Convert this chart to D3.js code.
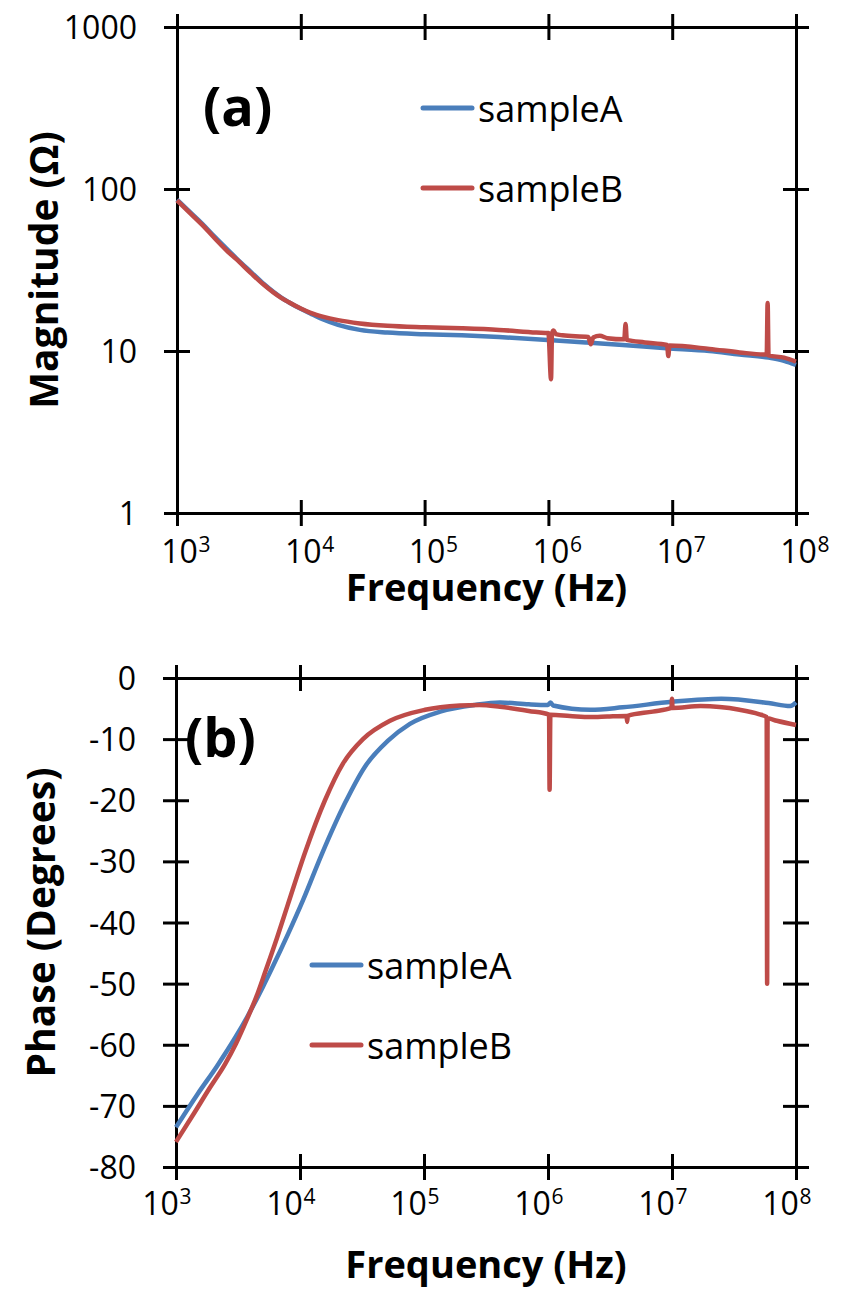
<html>
<head>
<meta charset="utf-8">
<script src="https://d3js.org/d3.v7.min.js"></script>
<style>
  body { margin: 0; background: #fff; }
  text { font-family: "Open Sans", sans-serif; fill: #000; }
  .domain, .tick line { stroke: #000; stroke-width: 3; }
  .domain { stroke-linecap: square; }
</style>
</head>
<body>
<script>
// ---- data ----
const freqTicks = [1e3, 1e4, 1e5, 1e6, 1e7, 1e8];
const freqExp = ['3', '4', '5', '6', '7', '8'];
const magTicks = [1, 10, 100, 1000];
const phaseTicks = [0, -10, -20, -30, -40, -50, -60, -70, -80];
const seriesNames = ['sampleA', 'sampleB'];
const colors = ['#4a7ebb', '#be4b48'];

// (a) magnitude, ohm
const magFreqA = [1e3, 1.3e3, 1.6e3, 2e3, 2.5e3, 3e3, 4e3, 5e3, 6e3, 7e3, 8e3, 1e4, 1.2e4, 1.5e4, 2e4, 3e4, 5e4, 1e5,
  2e5, 4e5, 1e6, 2e6, 4e6, 9e6, 2e7, 3.5e7, 6e7, 8e7, 1e8];
const magA = [86, 71, 61, 51, 43, 37.5, 30.5, 26, 23.2, 21.3, 20, 18.2, 17.0, 15.7, 14.5, 13.5, 13.0, 12.7,
  12.5, 12.2, 11.7, 11.3, 10.9, 10.4, 10.0, 9.5, 9.1, 8.7, 8.2];
const magFreqB = [1e3, 1.3e3, 1.6e3, 2e3, 2.5e3, 3e3, 4e3, 5e3, 6e3, 7e3, 8e3, 1e4, 1.2e4, 1.5e4, 2e4, 3e4, 5e4, 1e5,
  2e5, 4e5, 8e5, 1.0e6, 1.05e6, 1.07e6, 1.1e6, 1.15e6, 1.3e6, 2.1e6, 2.2e6, 2.3e6, 2.6e6, 3e6, 4.1e6, 4.2e6, 4.3e6,
  6e6, 9.1e6, 9.3e6, 9.5e6, 2e7, 3.5e7, 5.8e7, 5.9e7, 6.0e7, 8e7, 1e8];
const magB = [85, 70, 60, 50, 42, 37, 30, 25.7, 23, 21.2, 20, 18.3, 17.2, 16.3, 15.5, 14.8, 14.3, 14.0,
  13.8, 13.5, 13.0, 12.9, 6.7, 12.9, 13.4, 12.7, 12.5, 12.2, 11.0, 12.1, 12.4, 12.0, 11.8, 14.7, 11.7,
  11.3, 10.9, 9.3, 10.8, 10.3, 9.8, 9.5, 19.8, 9.4, 9.1, 8.6];

// (b) phase, degrees
const phFreqA = [1e3, 1.5e3, 2.14e3, 2.99e3, 3.74e3, 5.03e3, 5.94e3, 8e3, 1.06e4, 1.5e4, 2.3e4, 3.34e4, 5.1e4,
  7.7e4, 1.35e5, 2.58e5, 4.1e5, 7e5, 1e6, 1.05e6, 1.1e6, 2.2e6, 4e6, 1e7, 2.5e7, 6e7, 9e7, 1e8];
const phA = [-73.5, -68, -63.5, -58.9, -55.5, -50.5, -47.5, -41.9, -36.3, -28.8, -20.5, -14.5, -10.3,
  -7.5, -5.5, -4.4, -4.0, -4.3, -4.4, -4.0, -4.5, -5.2, -4.8, -3.9, -3.4, -4.1, -4.6, -4.0];
const phFreqB = [1e3, 1.37e3, 1.88e3, 2.48e3, 3.05e3, 3.74e3, 4.42e3, 5.22e3, 6.53e3, 8e3, 1.1e4, 1.59e4, 2.22e4,
  3.22e4, 5.32e4, 1.02e5, 1.95e5, 2.8e5, 4.1e5, 7e5, 1.02e6, 1.03e6, 1.045e6, 1.5e6, 2.2e6, 3e6, 4.3e6, 4.35e6,
  4.4e6, 7e6, 9.9e6, 1.0e7, 1.01e7, 1.7e7, 3.5e7, 5.0e7, 5.8e7, 5.85e7, 5.9e7, 7e7, 1e8];
const phB = [-75.9, -71.5, -67, -63.2, -59.8, -55.8, -52.3, -48.2, -42.5, -37, -28.5, -20, -14,
  -10, -7, -5.2, -4.5, -4.4, -4.7, -5.4, -6.0, -18.3, -6.0, -6.2, -6.4, -6.3, -6.2, -7.2,
  -6.2, -5.5, -4.9, -3.4, -4.9, -4.6, -5.2, -5.9, -6.4, -50, -6.6, -7.0, -7.7];

const svg = d3.select('body').append('svg').attr('width', 842).attr('height', 1296);

function crossTicks(g, horizontal) {
  g.selectAll('.tick line')
    .attr(horizontal ? 'y1' : 'x1', -13)
    .attr(horizontal ? 'y2' : 'x2', 13);
}

function panel(p) {
  const x = d3.scaleLog().domain([1e3, 1e8]).range([p.left, p.right]);
  const y = p.y;
  const [bottom, top] = y.range();

  // frame: top and right axes, ticks only
  svg.append('g').attr('transform', `translate(0,${top})`)
    .call(d3.axisTop(x).tickValues(freqTicks).tickFormat('').tickSizeOuter(0))
    .call(g => crossTicks(g, true));
  svg.append('g').attr('transform', `translate(${p.right},0)`)
    .call(d3.axisRight(y).tickValues(p.yTicks).tickFormat('').tickSizeOuter(0))
    .call(g => crossTicks(g, false));

  // left axis with labels
  svg.append('g').attr('transform', `translate(${p.left},0)`)
    .call(d3.axisLeft(y).tickValues(p.yTicks).tickFormat(d => String(d)).tickSizeOuter(0))
    .call(g => crossTicks(g, false))
    .call(g => g.selectAll('.tick text').attr('x', -40).attr('dy', '0.36em')
      .style('font-size', '32px'));

  // bottom axis with 10^n labels
  const xa = svg.append('g').attr('transform', `translate(0,${bottom})`)
    .call(d3.axisBottom(x).tickValues(freqTicks).tickFormat(() => '10').tickSizeOuter(0))
    .call(g => crossTicks(g, true));
  xa.selectAll('.tick text').attr('y', p.xLabelDy).attr('dy', null)
    .attr('x', p.xLabelDx).style('font-size', '32px');
  xa.selectAll('.tick').append('text')
    .attr('x', p.xLabelDx + 19).attr('y', p.xLabelDy - 11)
    .attr('text-anchor', 'start').attr('fill', '#000')
    .style('font-size', '21px')
    .text((d, i) => freqExp[i]);

  // series
  const line = d3.line().x(d => x(d[0])).y(d => y(d[1])).curve(d3.curveMonotoneX);
  p.series.forEach((s, i) => {
    svg.append('path')
      .datum(d3.zip(s[0], s[1]))
      .attr('fill', 'none').attr('stroke', colors[i])
      .attr('stroke-width', 4.5).attr('stroke-linejoin', 'round')
      .attr('d', line);
  });

  // panel letter
  svg.append('text').attr('x', p.letter[0]).attr('y', p.letter[1])
    .style('font-size', '54px').style('font-weight', 'bold').text(p.letter[2]);

  // legend
  seriesNames.forEach((name, i) => {
    const ly = p.legend[1] + i * 80;
    svg.append('line')
      .attr('x1', p.legend[0]).attr('x2', p.legend[0] + 49)
      .attr('y1', ly).attr('y2', ly)
      .attr('stroke', colors[i]).attr('stroke-width', 5).attr('stroke-linecap', 'round');
    svg.append('text').attr('x', p.legend[0] + 55).attr('y', ly + 14)
      .style('font-size', '36px').text(name);
  });

  // axis titles
  svg.append('text').attr('x', (p.left + p.right) / 2).attr('y', p.xTitleY)
    .attr('text-anchor', 'middle').style('font-size', '38px').style('font-weight', 'bold')
    .text('Frequency (Hz)');
  svg.append('text')
    .attr('transform', `translate(${p.yTitleX},${(top + bottom) / 2}) rotate(-90)`)
    .attr('text-anchor', 'middle').style('font-size', '39px').style('font-weight', 'bold')
    .text(p.yTitle);
}

panel({
  left: 177, right: 796,
  y: d3.scaleLog().domain([1, 1000]).range([513, 27]),
  yTicks: magTicks,
  xLabelDy: 50, xLabelDx: 2, xTitleY: 601,
  yTitleX: 58, yTitle: 'Magnitude (\u03A9)',
  letter: [203, 126, '(a)'],
  legend: [423, 108],
  series: [[magFreqA, magA], [magFreqB, magB]]
});

panel({
  left: 176, right: 796,
  y: d3.scaleLinear().domain([-80, 0]).range([1167, 678]),
  yTicks: phaseTicks,
  xLabelDy: 48, xLabelDx: -16, xTitleY: 1278,
  yTitleX: 55, yTitle: 'Phase (Degrees)',
  letter: [185, 757, '(b)'],
  legend: [312, 965],
  series: [[phFreqA, phA], [phFreqB, phB]]
});
</script>
</body>
</html>
